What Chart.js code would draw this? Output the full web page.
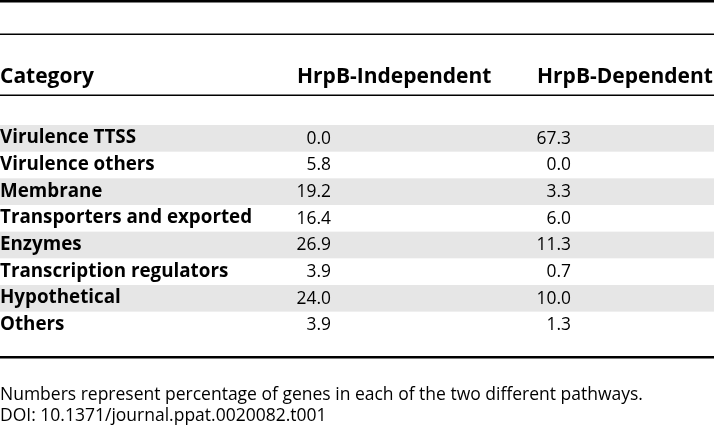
<!DOCTYPE html>
<html lang="en">
<head>
  <meta charset="UTF-8">
  <title>HrpB gene categories</title>
  <script src="https://cdn.jsdelivr.net/npm/chart.js"></script>
  <style>
    html, body { margin: 0; padding: 0; background: #ffffff; }
    #wrap { width: 714px; height: 434px; }
  </style>
</head>
<body>
  <div id="wrap"><canvas id="tableChart" width="714" height="434"></canvas></div>

  <script>
    // table data
    const categories = ['Virulence TTSS', 'Virulence others', 'Membrane', 'Transporters and exported',
      'Enzymes', 'Transcription regulators', 'Hypothetical', 'Others'];
    const independent = [0.0, 5.8, 19.2, 16.4, 26.9, 3.9, 24.0, 3.9];
    const dependent = [67.3, 0.0, 3.3, 6.0, 11.3, 0.7, 10.0, 1.3];
    const headers = ['Category', 'HrpB-Independent', 'HrpB-Dependent'];
    const footnotes = ['Numbers represent percentage of genes in each of the two different pathways.',
      'DOI: 10.1371/journal.ppat.0020082.t001'];

    const FONT = '"Open Sans", sans-serif';

    // draws the table: shading, rules, header, cells, footnote
    const tablePlugin = {
      id: 'tableDraw',
      beforeDatasetsDraw(chart) {
        const ctx = chart.ctx;
        const y = chart.scales.y;
        const band = (y.bottom - y.top) / categories.length;
        ctx.save();
        ctx.fillStyle = '#e6e6e6';
        categories.forEach((c, i) => {
          if (i % 2 === 0) {
            const cy = y.getPixelForValue(i);
            ctx.fillRect(0, cy - band / 2, chart.width, band);
          }
        });
        ctx.restore();
      },
      afterDatasetsDraw(chart) {
        const ctx = chart.ctx;
        const W = chart.width;
        ctx.save();

        // rules
        ctx.fillStyle = '#000';
        ctx.fillRect(0, 0, W, 2.5);
        ctx.fillRect(0, 33.5, W, 1.5);
        ctx.fillRect(0, 94.5, W, 1.5);
        ctx.fillRect(0, 356, W, 2.5);

        // header
        ctx.fillStyle = '#000';
        ctx.textBaseline = 'alphabetic';
        ctx.font = 'bold 21px ' + FONT;
        ctx.textAlign = 'left';
        ctx.fillText(headers[0], 0, 82.5);
        ctx.fillText(headers[1], 297, 82.5);
        ctx.fillText(headers[2], 537, 82.5);

        // category names
        const y = chart.scales.y;
        categories.forEach((c, i) => {
          ctx.font = 'bold 18.8px ' + FONT;
          ctx.textAlign = 'left';
          ctx.fillText(c, 0, y.getPixelForValue(i) + 5);
        });

        // values, placed on each dataset's bar element
        const colRight = [331, 571];
        chart.data.datasets.forEach((ds, d) => {
          const meta = chart.getDatasetMeta(d);
          meta.data.forEach((el, j) => {
            ctx.font = '17.4px ' + FONT;
            ctx.textAlign = 'right';
            ctx.fillText(ds.data[j].toFixed(1), colRight[d], el.y + 5.5);
          });
        });

        // footnote
        ctx.font = '17.5px ' + FONT;
        ctx.textAlign = 'left';
        ctx.fillText(footnotes[0], 0, 400);
        ctx.fillText(footnotes[1], 0, 421);
        ctx.restore();
      }
    };

    const ctx = document.getElementById('tableChart').getContext('2d');
    const chart = new Chart(ctx, {
      type: 'bar',
      data: {
        labels: categories,
        datasets: [
          { label: headers[1], data: independent, backgroundColor: 'rgba(0,0,0,0)', grouped: false },
          { label: headers[2], data: dependent, backgroundColor: 'rgba(0,0,0,0)', grouped: false }
        ]
      },
      options: {
        indexAxis: 'y',
        responsive: false,
        animation: false,
        layout: { padding: { top: 125, bottom: 95.7, left: 0, right: 0 } },
        plugins: { legend: { display: false }, tooltip: { enabled: false } },
        scales: {
          x: { display: false, min: 0, max: 100 },
          y: { display: false, offset: true }
        }
      },
      plugins: [tablePlugin]
    });
  </script>
</body>
</html>
